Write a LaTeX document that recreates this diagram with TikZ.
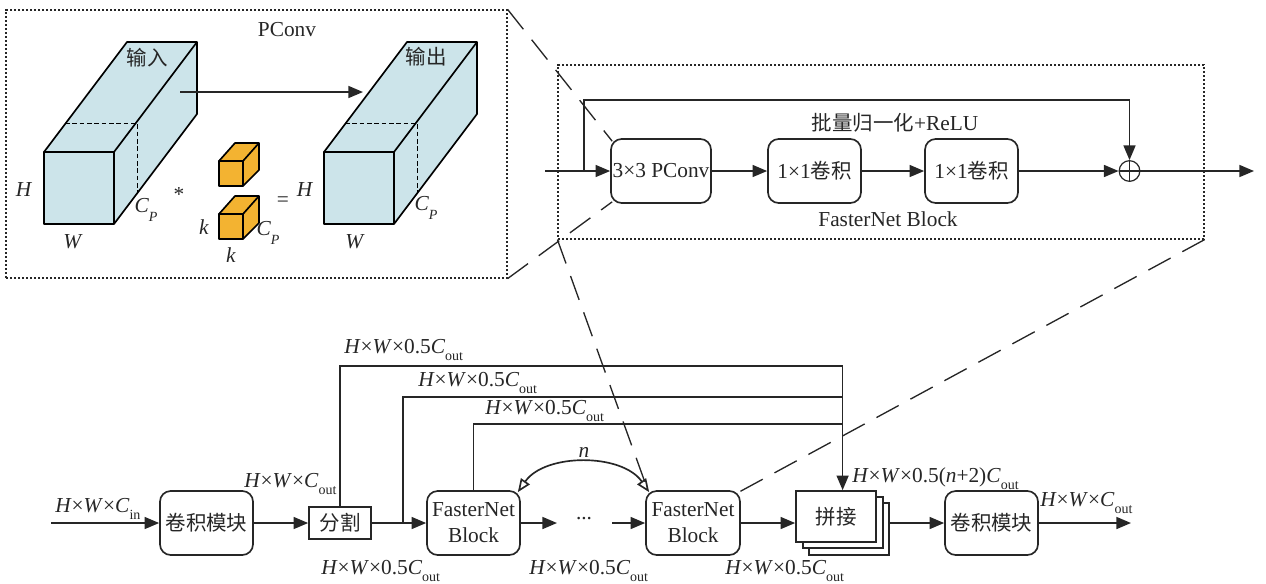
\documentclass[tikz,border=0pt]{standalone}
\usepackage{fontspec}
\setmainfont{Liberation Serif}
\newfontfamily\cjk{Noto Sans CJK SC}[Scale=0.96]
\usetikzlibrary{arrows.meta,calc}
\definecolor{cub}{HTML}{CCE4EA}
\definecolor{org}{HTML}{F3B331}
\definecolor{ink}{HTML}{262626}
\newcommand\lbl[1]{\textit{#1}}
\newcommand\sbs[1]{\raisebox{-0.36em}{\fontsize{10.5}{10.5}\selectfont #1}}
\newcommand\half{\lbl{H}×\lbl{W}×0.5\lbl{C}\sbs{out}}
\newcommand\full[1]{\lbl{H}×\lbl{W}×\lbl{C}\sbs{#1}}
\newcommand\cp{\lbl{C}\raisebox{-0.4em}{\fontsize{10.5}{10.5}\selectfont\lbl{P}}}
\newcommand\cuboid[1]{%
  \begin{scope}[xshift=#1*0.75pt]
    \fill[cub] (44,152) -- (127,42) -- (197,42) -- (197,114) -- (114,224) -- (44,224) -- cycle;
    \draw[line width=0.6pt,dash pattern=on 3.5pt off 2pt] (65,123) -- (137,123) -- (137,192);
    \draw[cubeline] (44,152) rectangle (114,224);
    \draw[cubeline] (44,152) -- (127,42) -- (197,42) -- (197,114) -- (114,224);
    \draw[cubeline] (114,152) -- (197,42);
  \end{scope}}
\newcommand\smallcube[1]{%
  \begin{scope}[yshift=-#1*0.75pt]
    \fill[org] (219,161) -- (235,143) -- (259,143) -- (259,170) -- (243,186) -- (219,186) -- cycle;
    \draw[cubeline] (219,161) rectangle (243,186);
    \draw[cubeline] (219,161) -- (235,143) -- (259,143) -- (259,170) -- (243,186);
    \draw[cubeline] (243,161) -- (259,143);
  \end{scope}}
\tikzset{
  cubeline/.style={line width=1.25pt,line join=round},
  conn/.style={line width=1.25pt,draw=ink},
  arr/.style={conn,-{Triangle[length=11pt,width=9pt]}},
  openarr/.style={conn,{Triangle[open,length=10pt,width=8pt]}-{Triangle[open,length=10pt,width=8pt]}},
  wh/.style 2 args={minimum width=#1*0.75pt,minimum height=#2*0.75pt},
  blk/.style={draw=ink,line width=1.25pt,rounded corners=8pt,inner sep=0pt,align=center,text=ink},
  sq/.style={draw=ink,line width=1.25pt,inner sep=0pt,fill=white,text=ink},
  dotbox/.style={draw=ink,line width=0.9pt,dash pattern=on 1.6pt off 1.4pt,inner sep=0pt},
  longdash/.style={draw=ink,line width=1pt,dash pattern=on 19pt off 10pt},
  txt/.style={inner sep=0pt,text=ink,font=\fontsize{16}{19}\selectfont},
  every node/.append style={font=\fontsize{16}{19.5}\selectfont}
}
\begin{document}
\begin{tikzpicture}[x=0.75pt,y=-0.75pt]
\useasboundingbox (0,0) rectangle (1266,583);
% boxes
\node[dotbox,wh={501}{268}] (pbox) at (256.5,144) {};
\node[dotbox,wh={646}{174}] (fbox) at (881,152) {};
% PConv detail
\cuboid{0}
\cuboid{280}
\smallcube{0}
\smallcube{53}
\node[txt] (ptitle) at (287,30) {PConv};
\node[txt] (tin) at (147,58) {{\cjk 输入}};
\node[txt] (tout) at (426,57) {{\cjk 输出}};
\coordinate (ps) at (180,92);
\coordinate (pe) at (363,92);
\draw[arr] (ps) -- (pe);
\node[txt] (h1) at (24,190) {\lbl{H}};
\node[txt] (w1) at (73,242) {\lbl{W}};
\node[txt] (c1) at (146,210) {\cp};
\node[txt] (star) at (179,195) {*};
\node[txt] (eq) at (283,202) {=};
\node[txt] (k1) at (204,227) {\lbl{k}};
\node[txt] (k2) at (231,255) {\lbl{k}};
\node[txt] (c2) at (268,233) {\cp};
\node[txt] (h2) at (305,190) {\lbl{H}};
\node[txt] (w2) at (355,242) {\lbl{W}};
\node[txt] (c3) at (426,208) {\cp};
% FasterNet block detail
\node[blk,wh={100}{64}] (pc) at (661,171) {3×3 PConv};
\node[blk,wh={93}{64}] (c11) at (814.5,171) {1×1{\cjk 卷积}};
\node[blk,wh={93}{64}] (c12) at (971.5,171) {1×1{\cjk 卷积}};
\node[draw=ink,line width=0.9pt,circle,minimum size=15.5pt,inner sep=0pt] (sum) at (1129.5,171) {};
\draw[line width=0.8pt,draw=ink] (sum.north) -- (sum.south) (sum.west) -- (sum.east);
\coordinate (fin) at (545,171);
\coordinate (fbr) at (584,171);
\coordinate (ftop) at (584,100);
\coordinate (fout) at (1254,171);
\draw[arr] (fin) -- (pc);
\draw[arr] (pc) -- (c11);
\draw[arr] (c11) -- (c12);
\draw[arr] (c12) -- (sum);
\draw[arr] (sum.east) -- (fout);
\draw[arr] (fbr) -- (ftop) -| (sum.north);
\node[txt] (bn) at (895,123) {{\cjk 批量归一化}+ReLU};
\node[txt] (fl) at (888,219) {FasterNet Block};
% bottom row
\node[blk,wh={93}{64}] (conv1) at (206.5,523) {{\cjk 卷积模块}};
\node[sq,wh={62}{32}] (split) at (340,523) {{\cjk 分割}};
\node[blk,wh={93}{64}] (b1) at (473.5,523) {FasterNet\\Block};
\node[blk,wh={94}{64}] (b2) at (693,523) {FasterNet\\Block};
\node[sq,wh={80}{52}] (st3) at (849,529) {};
\node[sq,wh={80}{51}] (st2) at (843,522.5) {};
\node[sq,wh={80}{51}] (st1) at (836,516.5) {{\cjk 拼接}};
\node[blk,wh={93}{64}] (conv2) at (991.5,523) {{\cjk 卷积模块}};
\node[txt] (dots) at (584,519) {...};
\coordinate (bin) at (51,523);
\coordinate (bout) at (1131,523);
\coordinate (j2) at (403,523);
\coordinate (jr) at (842.6,366);
\coordinate (d1) at (557,523);
\coordinate (d2) at (612,523);
\draw[arr] (bin) -- (conv1);
\draw[arr] (conv1) -- (split);
\draw[arr] (split) -- (b1);
\draw[arr] (b1) -- (d1);
\draw[arr] (d2) -- (b2);
\draw[arr] (b2) -- (st1.west |- b2.east);
\draw[arr] (st3.east |- conv2.west) -- (conv2.west);
\draw[arr] (conv2) -- (bout);
\draw[conn] (split.north) |- (jr);
\draw[conn] (j2) -- (403,396.7) -| (jr);
\draw[conn] (b1.north) |- (842.6,423.7);
\draw[arr] (jr) -- (jr |- st1.north);
\draw[openarr] ([shift={(-3,2)}]b1.north east) .. controls (545,453) and (622,453) .. ([shift={(4,2)}]b2.north west);
\node[txt] (nl) at (584,452) {\lbl{n}};
% zoom guides
\draw[longdash] (pbox.north east) -- ([shift={(2,3)}]pc.north west);
\draw[longdash] (pbox.south east) -- ([shift={(2,-2)}]pc.south west);
\draw[longdash] (fbox.south west) -- ([shift={(3,1)}]b2.north west);
\draw[longdash] (fbox.south east) -- ([shift={(-2,2)}]b2.north east);
% dimension labels
\node[txt,anchor=base west] (l1) at (344,353) {\half};
\node[txt,anchor=base west] (l2) at (418,386) {\half};
\node[txt,anchor=base west] (l3) at (485,414) {\half};
\node[txt,anchor=base west] (l4) at (244,487) {\full{out}};
\node[txt,anchor=base west] (l5) at (55,512) {\full{in}};
\node[txt,anchor=base west] (l6) at (321,574) {\half};
\node[txt,anchor=base west] (l7) at (529,574) {\half};
\node[txt,anchor=base west] (l8) at (725,574) {\half};
\node[txt,anchor=base west] (l9) at (852,482) {\lbl{H}×\lbl{W}×0.5(\lbl{n}+2)\lbl{C}\sbs{out}};
\node[txt,anchor=base west] (l10) at (1040,506) {\full{out}};
\end{tikzpicture}
\end{document}
